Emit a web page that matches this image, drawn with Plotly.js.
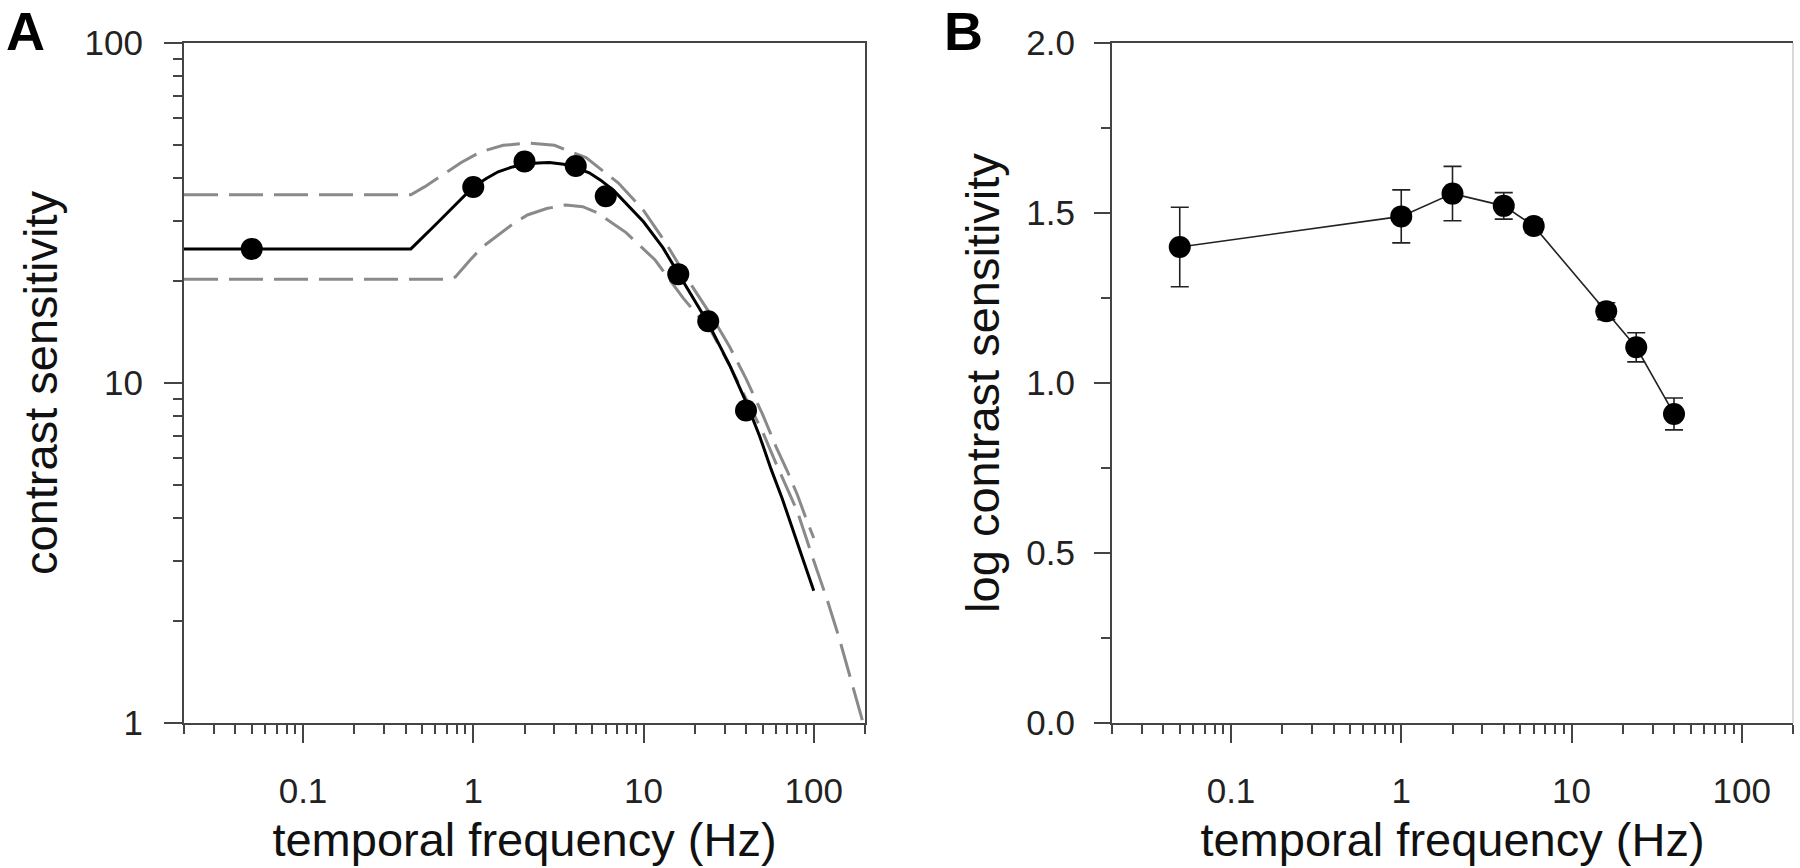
<!DOCTYPE html>
<html>
<head>
<meta charset="utf-8">
<script src="https://cdn.plot.ly/plotly-3.0.1.min.js"></script>
<style>html,body{margin:0;padding:0;background:#fff;}#chart{width:1800px;height:868px;}</style>
</head>
<body>
<div id="chart"></div>
<script>
// Panel A: measured contrast sensitivity
const freqA = [0.05, 1, 2, 4, 6, 16, 24, 40];
const sensA = [24.8, 37.7, 44.8, 43.5, 35.4, 20.9, 15.2, 8.3];

// Panel A: fitted curve (solid)
const fitFreq = [0.02, 0.43, 0.6, 0.8, 1.0, 1.2, 1.4, 1.7, 2.0, 2.4, 2.8, 3.4, 4.0, 4.8, 5.6, 6.7, 8, 10, 13, 16, 20, 24, 32, 40, 48, 56, 65, 75, 87, 100];
const fitSens = [24.8, 24.8, 29.2, 33.8, 37.7, 40.0, 41.8, 43.2, 44.0, 44.4, 44.5, 44.0, 43.0, 41.5, 39.5, 36.8, 33.5, 29.8, 25.0, 21.0, 17.5, 15.0, 11.3, 8.8, 7.0, 5.6, 4.6, 3.7, 3.0, 2.45];

// Panel A: upper dashed bound
const upFreq = [0.02, 0.43, 0.52, 0.64, 0.85, 1.1, 1.5, 2.1, 3, 4.6, 7.1, 10, 13.6, 18.6, 25, 32, 40, 50, 60, 70, 80, 90, 100];
const upSens = [35.8, 35.8, 37.8, 40.4, 44.5, 47.8, 50, 50.8, 50, 46, 38.8, 32.2, 25.7, 19.8, 15.8, 12.8, 10.3, 8.1, 6.5, 5.5, 4.7, 4.0, 3.5];

// Panel A: lower dashed bound
const loFreq = [0.02, 0.72, 0.785, 0.95, 1.13, 1.39, 1.7, 2.08, 2.7, 3.5, 4.4, 5.4, 7.9, 11.7, 17.2, 25, 32, 40, 50, 60, 80, 100, 120, 140, 165, 195];
const loSens = [20.2, 20.2, 20.5, 22.9, 25.1, 27.2, 29.3, 31.2, 32.6, 33.4, 33.0, 31.6, 27.7, 23, 17.7, 14.2, 11.3, 9.0, 7.2, 5.8, 4.2, 3.0, 2.3, 1.8, 1.35, 1.0];

// Panel B: log contrast sensitivity with error bars
const freqB = [0.05, 1, 2, 4, 6, 16, 24, 40];
const logCS = [1.40, 1.49, 1.557, 1.521, 1.462, 1.211, 1.105, 0.909];
const errB  = [0.117, 0.078, 0.08, 0.039, 0.02, 0.025, 0.043, 0.047];

// Tick labels
const xTickVals = [0.1, 1, 10, 100];
const xTickText = ['0.1', '1', '10', '100'];
const yTickValsA = [1, 10, 100];
const yTickTextA = ['1', '10', '100'];
const yTickValsB = [0, 0.5, 1, 1.5, 2];
const yTickTextB = ['0.0', '0.5', '1.0', '1.5', '2.0'];
const yMinorB = [0.25, 0.75, 1.25, 1.75];

const minorLog = [];
[0.01, 0.1, 1, 10, 100].forEach(d => { for (let k = 2; k <= 9; k++) minorLog.push(+(d * k).toPrecision(3)); });

const axisColor = '#444';
const tickFont = {size: 35, color: '#222', family: 'Liberation Sans, Arial, sans-serif'};
const titleFont = {size: 47, color: '#111', family: 'Liberation Sans, Arial, sans-serif'};

function xAxis(domain, anchor) {
  return {
    domain: domain, anchor: anchor, type: 'log',
    range: [Math.log10(0.02), Math.log10(200)],
    tickvals: xTickVals, ticktext: xTickText,
    ticks: 'outside', ticklen: 18, tickwidth: 2, tickcolor: axisColor,
    showline: true, linecolor: axisColor, linewidth: 2, mirror: true,
    showgrid: false, zeroline: false, tickfont: tickFont, ticklabelstandoff: 18,
    minor: {tickvals: minorLog, ticks: 'outside', ticklen: 9, tickwidth: 2, tickcolor: axisColor, showgrid: false},
    title: {text: 'temporal frequency (Hz)', font: titleFont, standoff: 14}
  };
}

const traces = [
  {x: upFreq, y: upSens, xaxis: 'x', yaxis: 'y', mode: 'lines', line: {color: '#8a8a8a', width: 3, dash: '34px,11px'}, hoverinfo: 'skip'},
  {x: loFreq, y: loSens, xaxis: 'x', yaxis: 'y', mode: 'lines', line: {color: '#8a8a8a', width: 3, dash: '34px,11px'}, hoverinfo: 'skip'},
  {x: fitFreq, y: fitSens, xaxis: 'x', yaxis: 'y', mode: 'lines', line: {color: '#000', width: 3}},
  {x: freqA, y: sensA, xaxis: 'x', yaxis: 'y', mode: 'markers', marker: {color: '#000', size: 22}},
  {x: freqB, y: logCS, xaxis: 'x2', yaxis: 'y2', mode: 'lines+markers',
   line: {color: '#222', width: 1.6}, marker: {color: '#000', size: 22},
   error_y: {type: 'data', array: errB, visible: true, color: '#222', thickness: 1.6, width: 9}}
];

const layout = {
  width: 1800, height: 868,
  margin: {l: 0, r: 0, t: 0, b: 0},
  paper_bgcolor: '#fff', plot_bgcolor: '#fff',
  showlegend: false,
  font: {family: 'Liberation Sans, Arial, sans-serif', color: '#222'},
  xaxis: xAxis([184 / 1800, 865 / 1800], 'y'),
  xaxis2: xAxis([1112 / 1800, 1793 / 1800], 'y2'),
  yaxis: {
    domain: [1 - 723 / 868, 1 - 43 / 868], anchor: 'x', type: 'log',
    range: [0, 2], tickvals: yTickValsA, ticktext: yTickTextA,
    ticks: 'outside', ticklen: 18, tickwidth: 2, tickcolor: axisColor,
    showline: true, linecolor: axisColor, linewidth: 2, mirror: true,
    showgrid: false, zeroline: false, tickfont: tickFont, ticklabelstandoff: 14,
    minor: {tickvals: minorLog, ticks: 'outside', ticklen: 9, tickwidth: 2, tickcolor: axisColor, showgrid: false},
    title: {text: 'contrast sensitivity', font: titleFont, standoff: 12}
  },
  yaxis2: {
    domain: [1 - 723 / 868, 1 - 43 / 868], anchor: 'x2',
    range: [0, 2], tickvals: yTickValsB, ticktext: yTickTextB,
    ticks: 'outside', ticklen: 16, tickwidth: 2, tickcolor: axisColor,
    showline: true, linecolor: axisColor, linewidth: 2, mirror: false,
    showgrid: false, zeroline: false, tickfont: tickFont, ticklabelstandoff: 12,
    minor: {tickvals: yMinorB, ticks: 'outside', ticklen: 9, tickwidth: 2, tickcolor: axisColor, showgrid: false},
    title: {text: 'log contrast sensitivity', font: titleFont, standoff: 12}
  },
  shapes: [
    {type: 'line', xref: 'x2 domain', yref: 'y2 domain', x0: 1, x1: 1, y0: 0, y1: 1, line: {color: '#d8d8d8', width: 2}}
  ],
  annotations: [
    {text: '<b>A</b>', xref: 'paper', yref: 'paper', x: 25 / 1800, y: 1, xanchor: 'center', yanchor: 'top', showarrow: false, borderpad: 0, font: {size: 54, color: '#000', family: 'Liberation Sans, Arial, sans-serif'}},
    {text: '<b>B</b>', xref: 'paper', yref: 'paper', x: 963 / 1800, y: 1, xanchor: 'center', yanchor: 'top', showarrow: false, borderpad: 0, font: {size: 54, color: '#000', family: 'Liberation Sans, Arial, sans-serif'}}
  ]
};

Plotly.newPlot('chart', traces, layout, {staticPlot: true, displayModeBar: false});
</script>
</body>
</html>
